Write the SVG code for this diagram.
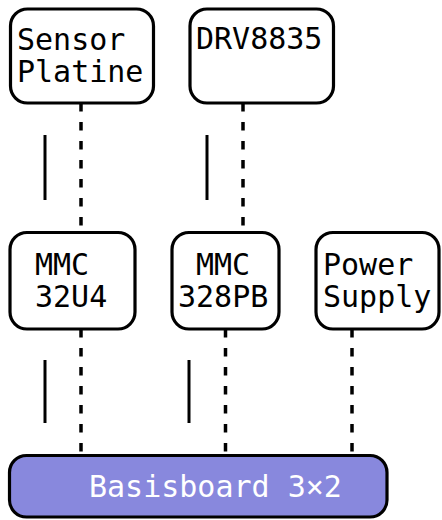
<svg xmlns="http://www.w3.org/2000/svg" width="442" height="520" viewBox="0 0 442 520">
<style>
.box{fill:#ffffff;stroke:#000000;stroke-width:3.2}
.base{fill:#8888dd;stroke:#000000;stroke-width:3.2}
.t{font-family:"DejaVu Sans Mono","Liberation Mono",monospace;font-size:30px;fill:#000000}
.tw{font-family:"DejaVu Sans Mono","Liberation Mono",monospace;font-size:30px;fill:#ffffff}
.dash{stroke:#000000;stroke-width:3.5;stroke-dasharray:8.5,10.5;fill:none}
.bar{stroke:#000000;stroke-width:3;fill:none}
</style>
<rect width="442" height="520" fill="#ffffff"/>
<g id="connectors">
<line class="dash" x1="81" y1="103" x2="81" y2="232"/>
<line class="dash" x1="243" y1="103" x2="243" y2="232"/>
<line class="dash" x1="81" y1="329" x2="81" y2="455.5"/>
<line class="dash" x1="225.5" y1="329" x2="225.5" y2="455.5"/>
<line class="dash" x1="352" y1="329" x2="352" y2="455.5"/>
<line class="bar" x1="45" y1="135" x2="45" y2="200"/>
<line class="bar" x1="207" y1="135" x2="207" y2="200"/>
<line class="bar" x1="45" y1="360" x2="45" y2="423"/>
<line class="bar" x1="189" y1="360" x2="189" y2="423"/>
</g>
<g id="sensor">
<rect class="box" x="10.5" y="9" width="143" height="94" rx="17"/>
<text class="t" x="17" y="50">Sensor</text>
<text class="t" x="17" y="82">Platine</text>
</g>
<g id="drv">
<rect class="box" x="190" y="9" width="143.5" height="94" rx="17"/>
<text class="t" x="196" y="49">DRV8835</text>
</g>
<g id="mmc32u4">
<rect class="box" x="10" y="232.5" width="125" height="96.5" rx="17"/>
<text class="t" x="35" y="275">MMC</text>
<text class="t" x="35" y="307">32U4</text>
</g>
<g id="mmc328pb">
<rect class="box" x="172" y="232.5" width="107" height="96.5" rx="17"/>
<text class="t" x="196" y="275">MMC</text>
<text class="t" x="178" y="307">328PB</text>
</g>
<g id="power">
<rect class="box" x="316" y="232.5" width="123" height="96.5" rx="17"/>
<text class="t" x="323" y="275">Power</text>
<text class="t" x="323" y="307">Supply</text>
</g>
<g id="basisboard">
<rect class="base" x="9.5" y="455.5" width="377.5" height="61.5" rx="17"/>
<text class="tw" x="89" y="497">Basisboard 3×2</text>
</g>
</svg>
